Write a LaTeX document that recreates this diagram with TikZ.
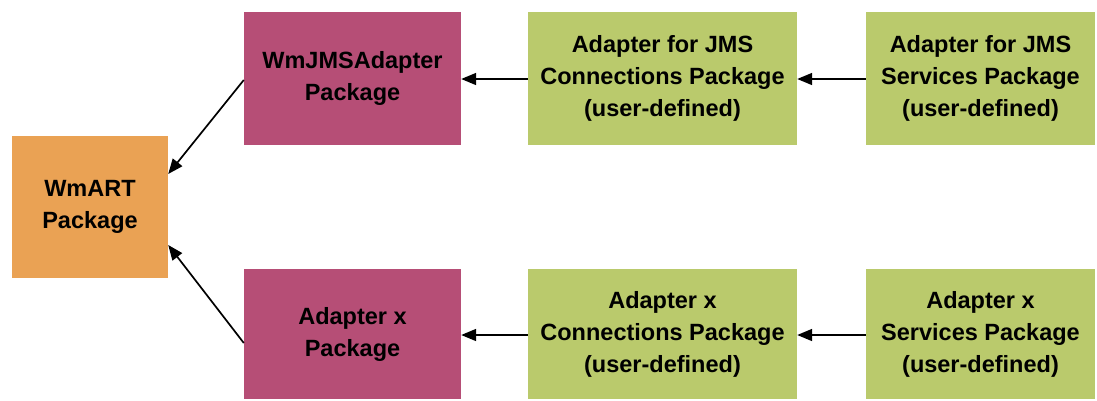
\documentclass[tikz,border=0pt]{standalone}
\usepackage{fontspec}
\setmainfont{Liberation Sans}
\usetikzlibrary{arrows.meta}
\definecolor{orangebox}{RGB}{234,162,84}
\definecolor{magbox}{RGB}{182,78,118}
\definecolor{greenbox}{RGB}{186,202,108}
\tikzset{
  box/.style={draw=none, inner sep=0pt, align=center, font=\fontsize{23.5}{32}\selectfont\bfseries, text=black},
  arr/.style={-{Triangle[length=15pt,width=12pt]}, line width=1.7pt, black}
}
\begin{document}
\begin{tikzpicture}[x=1pt,y=-1pt]
\useasboundingbox (0,0) rectangle (1097,400);
\node[box, fill=orangebox, minimum width=156pt, minimum height=142pt] (wmart) at (90,207) {WmART\\Package};
\node[box, fill=magbox, minimum width=217pt, minimum height=133pt] (jms) at (352.5,78.5) {WmJMSAdapter\\Package};
\node[box, fill=greenbox, minimum width=269pt, minimum height=133pt] (jmsconn) at (662.5,78.5) {Adapter for JMS\\Connections Package\\(user-defined)};
\node[box, fill=greenbox, minimum width=229pt, minimum height=133pt] (jmsserv) at (980.5,78.5) {Adapter for JMS\\Services Package\\(user-defined)};
\node[box, fill=magbox, minimum width=217pt, minimum height=130pt] (ax) at (352.5,334) {Adapter x\\Package};
\node[box, fill=greenbox, minimum width=269pt, minimum height=130pt] (axconn) at (662.5,334) {Adapter x\\Connections Package\\(user-defined)};
\node[box, fill=greenbox, minimum width=229pt, minimum height=130pt] (axserv) at (980.5,334) {Adapter x\\Services Package\\(user-defined)};
\draw[arr] (jms.west |- 0,80) -- (wmart.east |- 0,174);
\draw[arr] (ax.west |- 0,343) -- (wmart.east |- 0,245);
\draw[arr] (jmsconn.west |- 0,79) -- (jms.east |- 0,79);
\draw[arr] (jmsserv.west |- 0,79) -- (jmsconn.east |- 0,79);
\draw[arr] (axconn.west |- 0,335) -- (ax.east |- 0,335);
\draw[arr] (axserv.west |- 0,335) -- (axconn.east |- 0,335);
\end{tikzpicture}
\end{document}
